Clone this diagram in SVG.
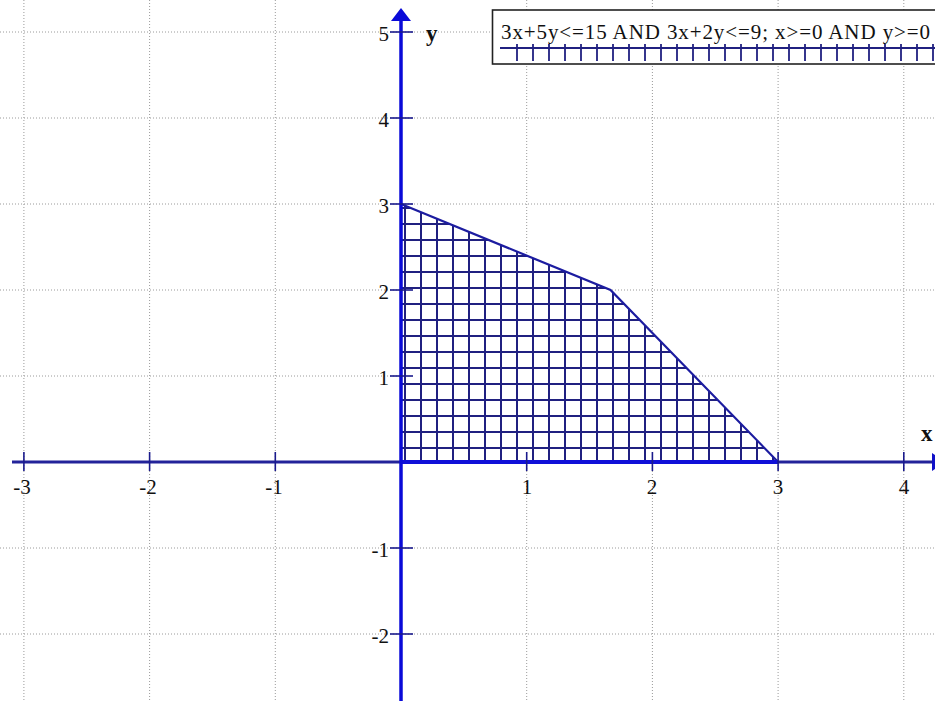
<svg xmlns="http://www.w3.org/2000/svg" width="935" height="701" viewBox="0 0 935 701">
<style>
.grid{stroke:#9a9a9a;stroke-width:1;stroke-dasharray:1 2;fill:none}
.tick{stroke:#1a1a8c;stroke-width:1.6}
.ytick{stroke:#1a1a8c;stroke-width:1.6}
.lbl{font-family:"Liberation Serif","Times New Roman",serif;font-size:21px;fill:#111}
.xl{text-anchor:middle}
.yl{text-anchor:end}
.axlbl{font-family:"Liberation Serif","Times New Roman",serif;font-size:23px;font-weight:bold;fill:#111}
.hatch{stroke:#202080;stroke-width:2}
</style>
<defs>
<pattern id="hp" patternUnits="userSpaceOnUse" x="397" y="440" width="16" height="16">
<line class="hatch" x1="8" y1="0" x2="8" y2="16"/>
<line class="hatch" x1="0" y1="8" x2="16" y2="8"/>
</pattern>
</defs>
<rect width="935" height="701" fill="#ffffff"/>
<g id="grid">
<line class="grid" x1="23.9" y1="0" x2="23.9" y2="701"/>
<line class="grid" x1="149.6" y1="0" x2="149.6" y2="701"/>
<line class="grid" x1="275.3" y1="0" x2="275.3" y2="701"/>
<line class="grid" x1="526.7" y1="0" x2="526.7" y2="701"/>
<line class="grid" x1="652.4" y1="0" x2="652.4" y2="701"/>
<line class="grid" x1="778.1" y1="0" x2="778.1" y2="701"/>
<line class="grid" x1="903.8" y1="0" x2="903.8" y2="701"/>
<line class="grid" x1="0" y1="32" x2="935" y2="32"/>
<line class="grid" x1="0" y1="118" x2="935" y2="118"/>
<line class="grid" x1="0" y1="204" x2="935" y2="204"/>
<line class="grid" x1="0" y1="290" x2="935" y2="290"/>
<line class="grid" x1="0" y1="376" x2="935" y2="376"/>
<line class="grid" x1="0" y1="548" x2="935" y2="548"/>
<line class="grid" x1="0" y1="634" x2="935" y2="634"/>
</g>
<g id="region">
<polygon points="401,462 401,204 610.5,290 778.1,462" fill="#ffffff"/>
<polygon points="401,462 401,204 610.5,290 778.1,462" fill="url(#hp)"/>
<polyline points="401,204 610.5,290 778.1,462" fill="none" stroke="#1c1ca0" stroke-width="2.2"/>
</g>
<g id="axes">
<line x1="12" y1="462" x2="932" y2="462" stroke="#23239a" stroke-width="3"/>
<line x1="401" y1="462" x2="778.1" y2="462" stroke="#1010d8" stroke-width="4"/>
<polygon points="932,453 932,471 945,462" fill="#1010c8"/>
<line x1="401" y1="18" x2="401" y2="701" stroke="#0a0ad8" stroke-width="3.5"/>
<polygon points="401,8 391,21 411,21" fill="#0a0ad8"/>
<line class="tick" x1="23.9" y1="452" x2="23.9" y2="471"/>
<line class="tick" x1="149.6" y1="452" x2="149.6" y2="471"/>
<line class="tick" x1="275.3" y1="452" x2="275.3" y2="471"/>
<line class="tick" x1="526.7" y1="452" x2="526.7" y2="471"/>
<line class="tick" x1="652.4" y1="452" x2="652.4" y2="471"/>
<line class="tick" x1="778.1" y1="452" x2="778.1" y2="471"/>
<line class="tick" x1="903.8" y1="452" x2="903.8" y2="471"/>
<line class="ytick" x1="390" y1="32" x2="413" y2="32"/>
<line class="ytick" x1="390" y1="118" x2="413" y2="118"/>
<line class="ytick" x1="390" y1="204" x2="413" y2="204"/>
<line class="ytick" x1="390" y1="290" x2="413" y2="290"/>
<line class="ytick" x1="390" y1="376" x2="413" y2="376"/>
<line class="ytick" x1="390" y1="548" x2="413" y2="548"/>
<line class="ytick" x1="390" y1="634" x2="413" y2="634"/>
</g>
<g id="labels">
<text class="lbl xl" x="22" y="494">-3</text>
<text class="lbl xl" x="148" y="494">-2</text>
<text class="lbl xl" x="274" y="494">-1</text>
<text class="lbl xl" x="527" y="494">1</text>
<text class="lbl xl" x="652" y="494">2</text>
<text class="lbl xl" x="778" y="494">3</text>
<text class="lbl xl" x="904" y="494">4</text>
<text class="lbl yl" x="389" y="41">5</text>
<text class="lbl yl" x="389" y="127">4</text>
<text class="lbl yl" x="389" y="213">3</text>
<text class="lbl yl" x="389" y="299">2</text>
<text class="lbl yl" x="389" y="385">1</text>
<text class="lbl yl" x="389" y="557">-1</text>
<text class="lbl yl" x="389" y="643">-2</text>
<text class="axlbl" x="426" y="41">y</text>
<text class="axlbl" x="921" y="441">x</text>
</g>
<g id="legend">
<rect x="492.5" y="10" width="450" height="54" fill="#ffffff" stroke="#222" stroke-width="1.6"/>
<line x1="500" y1="48" x2="935" y2="48" stroke="#202080" stroke-width="2"/>
<g stroke="#202080" stroke-width="1.8">
<line x1="517" y1="44" x2="517" y2="61"/><line x1="533" y1="44" x2="533" y2="61"/><line x1="549" y1="44" x2="549" y2="61"/><line x1="565" y1="44" x2="565" y2="61"/><line x1="581" y1="44" x2="581" y2="61"/><line x1="597" y1="44" x2="597" y2="61"/><line x1="613" y1="44" x2="613" y2="61"/><line x1="629" y1="44" x2="629" y2="61"/><line x1="645" y1="44" x2="645" y2="61"/><line x1="661" y1="44" x2="661" y2="61"/><line x1="677" y1="44" x2="677" y2="61"/><line x1="693" y1="44" x2="693" y2="61"/><line x1="709" y1="44" x2="709" y2="61"/><line x1="725" y1="44" x2="725" y2="61"/><line x1="741" y1="44" x2="741" y2="61"/><line x1="757" y1="44" x2="757" y2="61"/><line x1="773" y1="44" x2="773" y2="61"/><line x1="789" y1="44" x2="789" y2="61"/><line x1="805" y1="44" x2="805" y2="61"/><line x1="821" y1="44" x2="821" y2="61"/><line x1="837" y1="44" x2="837" y2="61"/><line x1="853" y1="44" x2="853" y2="61"/><line x1="869" y1="44" x2="869" y2="61"/><line x1="885" y1="44" x2="885" y2="61"/><line x1="901" y1="44" x2="901" y2="61"/><line x1="917" y1="44" x2="917" y2="61"/><line x1="933" y1="44" x2="933" y2="61"/>
</g>
<text class="lbl" x="501" y="39" font-size="20" textLength="429" lengthAdjust="spacing">3x+5y&lt;=15 AND 3x+2y&lt;=9; x&gt;=0 AND y&gt;=0</text>
</g>
</svg>
